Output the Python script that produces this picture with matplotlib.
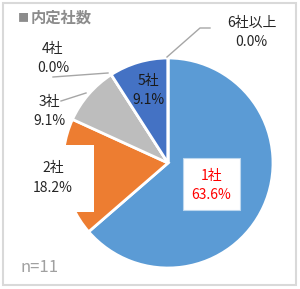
import matplotlib.pyplot as plt
from matplotlib.patches import Rectangle

plt.rcParams['font.family'] = ['Noto Sans CJK JP', 'DejaVu Sans']

# data
categories = ["1社", "2社", "3社", "4社", "5社", "6社以上"]
counts = [7, 2, 1, 0, 1, 0]
colors = ["#5B9BD5", "#ED7D31", "#BDBDBD", "#FFC000", "#4472C4", "#70AD47"]
title = "内定社数"

W, H = 300, 289
total = sum(counts)


def Y(py):
    # pixel row -> data y
    return H - py


fig = plt.figure(figsize=(W / 100, H / 100), dpi=100)
ax = fig.add_axes([0, 0, 1, 1])

ax.pie(counts, colors=colors, startangle=90, counterclock=False,
       center=(168, Y(163)), radius=105, frame=True,
       wedgeprops=dict(edgecolor="white", linewidth=2))
ax.set_xlim(0, W)
ax.set_ylim(0, H)
ax.set_aspect("auto")
ax.axis("off")

labels = [f"{c}\n{v / total * 100:.1f}%" for c, v in zip(categories, counts)]
fs = 10
ls = 1.5

# outer frame
ax.add_patch(Rectangle((3, Y(285)), 293, 282, fill=False,
                       edgecolor="#D9D9D9", linewidth=1.5))

# title and n
ax.text(18, Y(18), "■", fontsize=8, color="#8C8C8C", va="center", ha="left")
ax.text(31, Y(18), title, fontsize=11, color="#8C8C8C", va="center",
        ha="left", fontweight="bold")
ax.text(20, Y(268), f"n={total}", fontsize=12, color="#A0A0A0",
        va="center", ha="left")

# 1社 label box
ax.add_patch(Rectangle((183, Y(210)), 57, 52, facecolor="white",
                       edgecolor="#BDD7EE", linewidth=0.8, zorder=3))
ax.text(211.5, Y(185.5), labels[0], fontsize=fs, color="#FF0000",
        ha="center", va="center", linespacing=ls, zorder=4)

# 2社 label box
ax.add_patch(Rectangle((12, Y(212)), 82, 67, facecolor="white",
                       edgecolor="none", zorder=3))
ax.text(53, Y(178), labels[1], fontsize=fs, color="#262626",
        ha="center", va="center", linespacing=ls, zorder=4)

# 3社
ax.text(49, Y(111.5), labels[2], fontsize=fs, color="#262626",
        ha="center", va="center", linespacing=ls, zorder=4)
ax.plot([61, 86], [Y(101), Y(93)], color="#A6A6A6", linewidth=1, zorder=2)

# 4社
ax.text(53, Y(58.5), labels[3], fontsize=fs, color="#262626",
        ha="center", va="center", linespacing=ls, zorder=4)
ax.plot([53, 108], [Y(77), Y(73)], color="#A6A6A6", linewidth=1, zorder=2)

# 5社
ax.text(148, Y(90.5), labels[4], fontsize=fs, color="#1A1A1A",
        ha="center", va="center", linespacing=ls, zorder=4)

# 6社以上
ax.text(251.5, Y(32.5), labels[5], fontsize=fs, color="#262626",
        ha="center", va="center", linespacing=ls, zorder=4)
ax.plot([167, 200, 210], [Y(57), Y(28), Y(28)], color="#A6A6A6",
        linewidth=1, zorder=2)

fig.savefig("out.png", dpi=100)
plt.close(fig)
